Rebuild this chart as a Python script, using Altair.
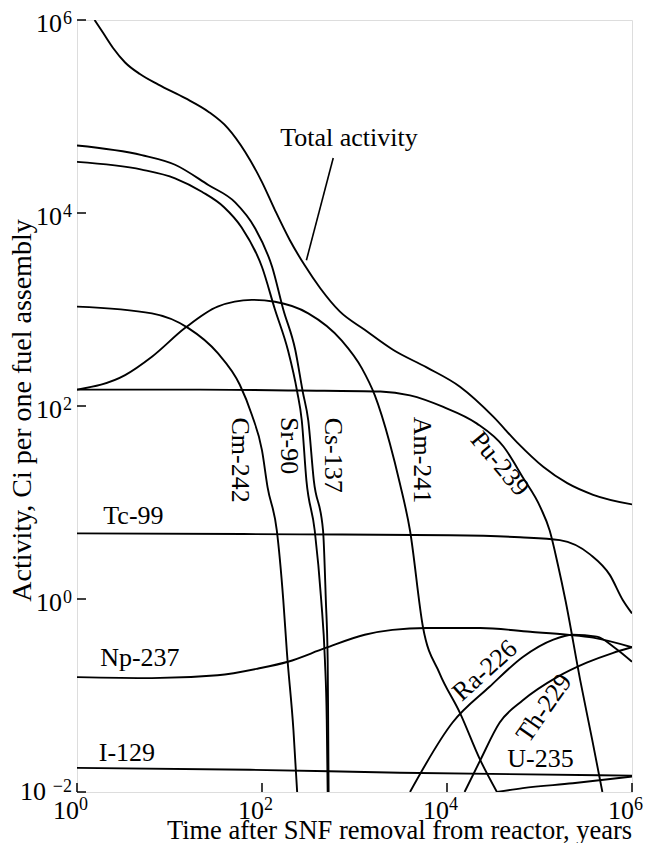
import altair as alt
import pandas as pd

# ---- curve data: log10(time, years) and log10(activity, Ci) ----
TOTAL_LT = [0.19, 0.28, 0.39, 0.52, 0.68, 0.88, 1.17, 1.42, 1.63, 1.82, 2.00, 2.14, 2.30, 2.46, 2.63, 2.84, 3.11, 3.42, 3.78, 4.14, 4.50, 4.76, 5.04, 5.30, 5.58, 6.00]
TOTAL_LA = [6.00, 5.87, 5.71, 5.56, 5.44, 5.33, 5.19, 5.05, 4.88, 4.63, 4.32, 4.03, 3.72, 3.46, 3.22, 2.98, 2.79, 2.58, 2.40, 2.20, 1.89, 1.62, 1.37, 1.20, 1.08, 0.98]

CS137_LT = [0.00, 0.70, 1.06, 1.42, 1.71, 1.92, 2.11, 2.23, 2.36, 2.44, 2.50, 2.56, 2.66, 2.69, 2.71, 2.715, 2.72]
CS137_LA = [4.70, 4.60, 4.50, 4.29, 4.11, 3.85, 3.44, 3.00, 2.58, 2.15, 1.85, 1.23, 0.71, -0.01, -0.63, -1.25, -2.00]

SR90_LT = [0.00, 0.70, 1.06, 1.35, 1.59, 1.78, 2.00, 2.14, 2.28, 2.38, 2.43, 2.48, 2.57, 2.64, 2.68, 2.70, 2.71]
SR90_LA = [4.53, 4.45, 4.36, 4.22, 4.06, 3.85, 3.44, 3.00, 2.58, 2.15, 1.85, 1.23, 0.71, -0.01, -0.63, -1.25, -2.00]

CM242_LT = [0.00, 0.81, 1.20, 1.52, 1.76, 1.89, 2.00, 2.06, 2.16, 2.23, 2.27, 2.34, 2.38]
CM242_LA = [3.03, 2.96, 2.81, 2.55, 2.22, 1.91, 1.54, 1.16, 0.71, -0.01, -0.56, -1.36, -2.00]

AM241_LT = [0.00, 0.52, 0.81, 1.17, 1.52, 1.89, 2.14, 2.50, 2.86, 3.08, 3.22, 3.38, 3.49, 3.60, 3.74, 3.92, 4.14, 4.36, 4.54]
AM241_LA = [2.17, 2.32, 2.51, 2.81, 3.03, 3.10, 3.08, 2.96, 2.68, 2.39, 2.11, 1.62, 1.20, 0.71, -0.29, -0.77, -1.18, -1.67, -2.00]

PU239_LT = [0.00, 1.33, 2.41, 3.28, 3.60, 3.96, 4.32, 4.61, 4.82, 5.01, 5.11, 5.20, 5.28, 5.44, 5.57, 5.68]
PU239_LA = [2.17, 2.17, 2.16, 2.15, 2.11, 1.99, 1.82, 1.58, 1.26, 0.95, 0.71, 0.35, -0.01, -0.84, -1.46, -2.00]

TC99_LT = [0.00, 2.41, 4.03, 4.79, 5.22, 5.55, 5.76, 5.90, 6.00]
TC99_LA = [0.68, 0.67, 0.66, 0.64, 0.61, 0.46, 0.25, -0.01, -0.15]

NP237_LT = [0.00, 0.81, 1.52, 1.96, 2.28, 2.68, 3.11, 3.41, 3.78, 4.36, 4.90, 5.30, 5.58, 6.00]
NP237_LA = [-0.81, -0.82, -0.79, -0.72, -0.65, -0.51, -0.37, -0.32, -0.30, -0.30, -0.34, -0.37, -0.40, -0.50]

RA226_LT = [3.60, 4.06, 4.46, 4.82, 5.15, 5.36, 5.62, 5.82, 6.00]
RA226_LA = [-2.00, -1.28, -0.91, -0.60, -0.42, -0.37, -0.39, -0.51, -0.65]

TH229_LT = [4.19, 4.36, 4.57, 4.82, 5.19, 5.51, 5.79, 6.00]
TH229_LA = [-2.00, -1.67, -1.28, -1.05, -0.81, -0.66, -0.56, -0.50]

U235_LT = [4.54, 4.82, 5.36, 6.00]
U235_LA = [-2.00, -1.96, -1.91, -1.84]

I129_LT = [0.00, 1.87, 3.49, 6.00]
I129_LA = [-1.75, -1.77, -1.80, -1.83]

# ---- curve labels (name, log10 t, log10 A, angle) ----
LABEL_NAMES = ["Total activity", "Tc-99", "Np-237", "I-129", "Cm-242", "Sr-90", "Cs-137", "Am-241", "Pu-239", "Ra-226", "Th-229", "U-235"]
LABEL_LT = [2.94, 0.61, 0.68, 0.54, 1.76, 2.29, 2.77, 3.73, 4.57, 4.41, 5.05, 5.01]
LABEL_LA = [4.78, 0.86, -0.61, -1.60, 1.44, 1.59, 1.49, 1.44, 1.40, -0.74, -1.13, -1.66]
LABEL_ANGLE = [0, 0, 0, 0, 90, 90, 90, 90, 50, 318, 305, 0]

# leader line for "Total activity"
LEADER_LT = [2.77, 2.48]
LEADER_LA = [4.57, 3.51]

# axis ticks (decades) and the exponents printed as superscripts
XTICK_EXP = [0, 2, 4, 6]
XTICK_SUP = ["0", "2", "4", "6"]
YTICK_EXP = [-2, 0, 2, 4, 6]
YTICK_SUP = ["\u22122", "0", "2", "4", "6"]

series = [
    ("Total activity", TOTAL_LT, TOTAL_LA),
    ("Cs-137", CS137_LT, CS137_LA),
    ("Sr-90", SR90_LT, SR90_LA),
    ("Cm-242", CM242_LT, CM242_LA),
    ("Am-241", AM241_LT, AM241_LA),
    ("Pu-239", PU239_LT, PU239_LA),
    ("Tc-99", TC99_LT, TC99_LA),
    ("Np-237", NP237_LT, NP237_LA),
    ("Ra-226", RA226_LT, RA226_LA),
    ("Th-229", TH229_LT, TH229_LA),
    ("U-235", U235_LT, U235_LA),
    ("I-129", I129_LT, I129_LA),
]
rows = []
for name, lts, las in series:
    for i, (lt, la) in enumerate(zip(lts, las)):
        rows.append({"nuclide": name, "order": i, "t": 10 ** lt, "a": 10 ** la})
df = pd.DataFrame(rows)

labels_df = pd.DataFrame({
    "name": LABEL_NAMES,
    "t": [10 ** v for v in LABEL_LT],
    "a": [10 ** v for v in LABEL_LA],
    "angle": LABEL_ANGLE,
})
leader_df = pd.DataFrame({"t": [10 ** LEADER_LT[0]], "a": [10 ** LEADER_LA[0]],
                          "t2": [10 ** LEADER_LT[1]], "a2": [10 ** LEADER_LA[1]]})
xt_df = pd.DataFrame({"t": [10.0 ** e for e in XTICK_EXP], "sup": XTICK_SUP, "base": "10"})
yt_df = pd.DataFrame({"a": [10.0 ** e for e in YTICK_EXP], "sup": YTICK_SUP, "base": "10"})

FONT = "Liberation Serif"
W, H = 555, 772
LBL = 26      # curve label size
TCK = 26      # "10" size
SUP = 18      # exponent size

xscale = alt.Scale(type="log", domain=[1, 1e6], nice=False)
yscale = alt.Scale(type="log", domain=[1e-2, 1e6], nice=False)

xaxis = alt.Axis(title="Time after SNF removal from reactor, years", labels=False, ticks=False,
                 domain=False, grid=False, titleFont=FONT, titleFontSize=26.5, titleFontWeight="normal",
                 titleColor="black", titleX=322, titleY=46, titleAnchor="middle", titleBaseline="alphabetic")
yaxis = alt.Axis(title="Activity, Ci per one fuel assembly", labels=False, ticks=False,
                 domain=False, grid=False, titleFont=FONT, titleFontSize=28, titleFontWeight="normal",
                 titleColor="black", titleX=-55, titleY=390, titleAngle=270, titleAlign="center",
                 titleBaseline="middle")

lines = alt.Chart(df).mark_line(color="black", strokeWidth=1.9, interpolate="monotone", clip=True).encode(
    x=alt.X("t:Q", scale=xscale, axis=xaxis),
    y=alt.Y("a:Q", scale=yscale, axis=yaxis),
    detail="nuclide:N",
    order="order:Q",
)

leader = alt.Chart(leader_df).mark_rule(color="black", strokeWidth=1.6).encode(
    x=alt.X("t:Q", scale=xscale), y=alt.Y("a:Q", scale=yscale), x2="t2:Q", y2="a2:Q"
)

text_base = alt.Chart(labels_df)
label_layers = []
for ang in sorted(set(LABEL_ANGLE)):
    label_layers.append(
        text_base.transform_filter(alt.datum.angle == ang).mark_text(
            font=FONT, fontSize=LBL, color="black", align="center", baseline="middle", angle=ang
        ).encode(x=alt.X("t:Q", scale=xscale), y=alt.Y("a:Q", scale=yscale), text="name:N")
    )

xticks = alt.Chart(xt_df).mark_rule(color="black", strokeWidth=1.5).encode(
    x=alt.X("t:Q", scale=xscale), y=alt.value(H), y2=alt.value(H - 9)
)
yticks = alt.Chart(yt_df).mark_rule(color="black", strokeWidth=1.5).encode(
    y=alt.Y("a:Q", scale=yscale), x=alt.value(0), x2=alt.value(9)
)

# x tick labels: "10" + raised exponent
xbase = alt.Chart(xt_df).mark_text(font=FONT, fontSize=TCK, color="black", align="right",
                                   baseline="alphabetic", dx=2).encode(
    x=alt.X("t:Q", scale=xscale), y=alt.value(H + 27), text="base:N"
)
xsup = alt.Chart(xt_df).mark_text(font=FONT, fontSize=SUP, color="black", align="left",
                                  baseline="alphabetic", dx=2).encode(
    x=alt.X("t:Q", scale=xscale), y=alt.value(H + 18), text="sup:N"
)

# y tick labels: exponent right-aligned near the axis, "10" just before it
ybase1 = alt.Chart(yt_df).transform_filter("length(datum.sup) == 1").mark_text(
    font=FONT, fontSize=TCK, color="black", align="right", baseline="alphabetic", dy=12
).encode(y=alt.Y("a:Q", scale=yscale), x=alt.value(-15), text="base:N")
ybase2 = alt.Chart(yt_df).transform_filter("length(datum.sup) == 2").mark_text(
    font=FONT, fontSize=TCK, color="black", align="right", baseline="alphabetic", dy=8
).encode(y=alt.Y("a:Q", scale=yscale), x=alt.value(-31), text="base:N")
ysup1 = alt.Chart(yt_df).transform_filter("length(datum.sup) == 1").mark_text(
    font=FONT, fontSize=SUP, color="black", align="right", baseline="alphabetic", dy=4
).encode(y=alt.Y("a:Q", scale=yscale), x=alt.value(-5), text="sup:N")
ysup2 = alt.Chart(yt_df).transform_filter("length(datum.sup) == 2").mark_text(
    font=FONT, fontSize=SUP, color="black", align="right", baseline="alphabetic", dy=0
).encode(y=alt.Y("a:Q", scale=yscale), x=alt.value(-5), text="sup:N")

chart = alt.layer(lines, leader, *label_layers, xticks, yticks, xbase, xsup,
                  ybase1, ybase2, ysup1, ysup2).properties(
    width=W, height=H,
    autosize=alt.AutoSizeParams(type="none"),
    padding={"left": 69, "top": 12, "right": 12, "bottom": 51},
).configure_view(stroke="black", strokeWidth=2).configure(background="white")

chart.save("out.html", embed_options={"renderer": "svg", "actions": False})
